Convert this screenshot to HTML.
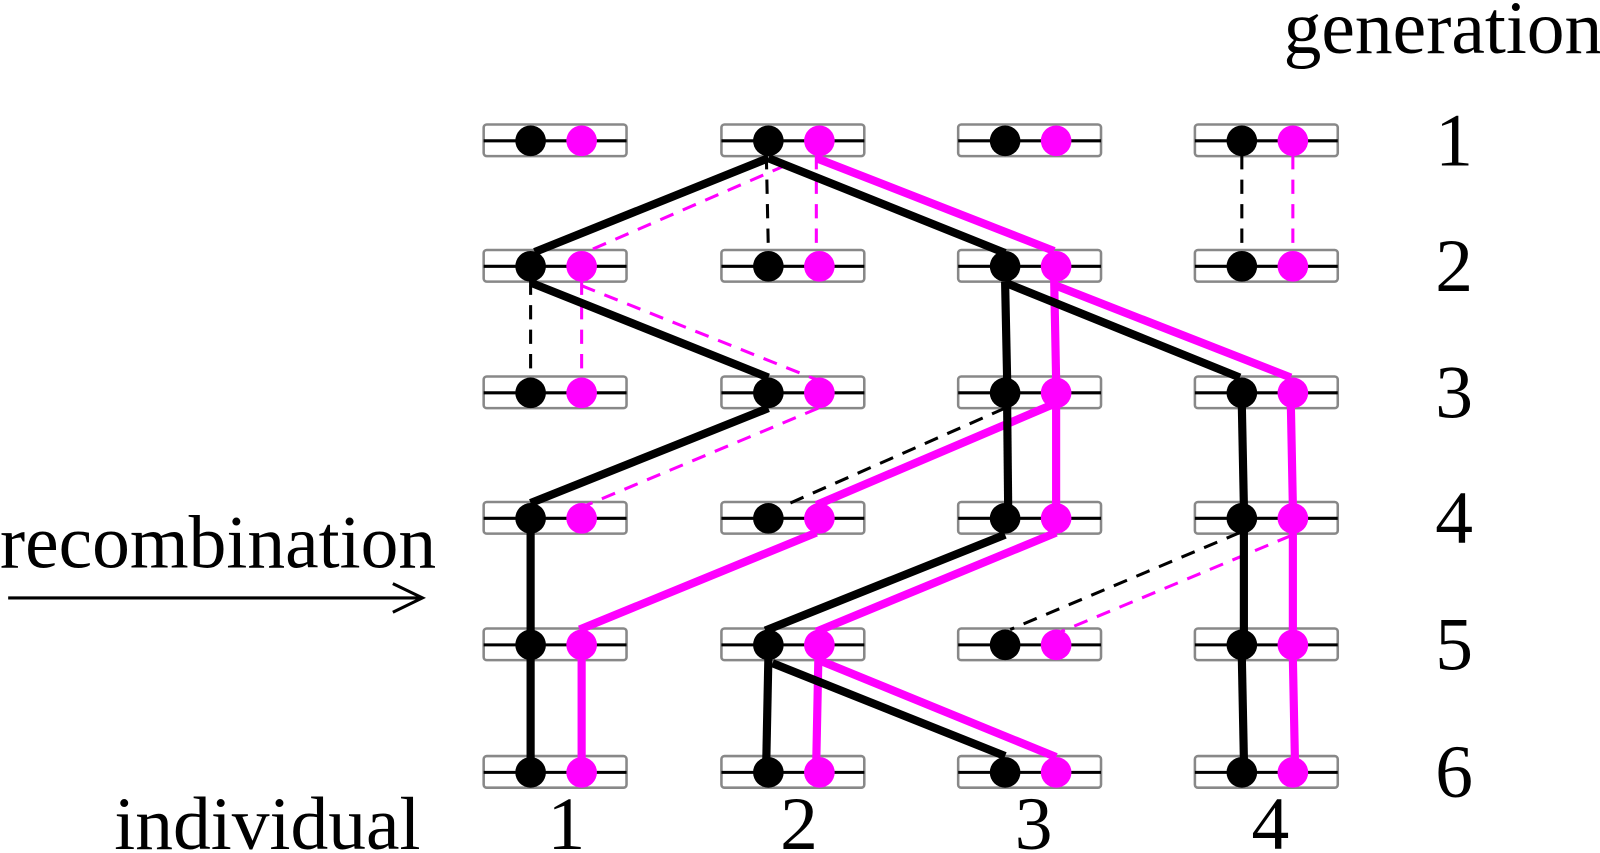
<!DOCTYPE html>
<html><head><meta charset="utf-8"><style>
html,body{margin:0;padding:0;background:#fff;width:1600px;height:853px;overflow:hidden}
svg{display:block}
text{font-family:"Liberation Serif",serif;fill:#000}
</style></head><body>
<svg width="1600" height="853" viewBox="0 0 1568 836" preserveAspectRatio="none" xmlns="http://www.w3.org/2000/svg" xmlns:xlink="http://www.w3.org/1999/xlink">
<defs>
<g id="chr">
<rect x="-46" y="-16" width="140" height="31" rx="3" fill="#fff" stroke="#888" stroke-width="2.5"/>
<line x1="-46" y1="0" x2="94" y2="0" stroke="#000" stroke-width="3"/>
</g>
<g id="dd">
<circle cx="0" cy="0" r="15" fill="#000"/>
<circle cx="50" cy="0" r="15" fill="#f0f"/>
</g>
</defs>
<g font-size="74">
<text x="1258" y="52">generation</text>
<text x="0" y="556">recombination</text>
<text x="112" y="832">individual</text>
<text x="1425" y="162" text-anchor="middle">1</text>
<text x="1425" y="285" text-anchor="middle">2</text>
<text x="1425" y="409" text-anchor="middle">3</text>
<text x="1425" y="532" text-anchor="middle">4</text>
<text x="1425" y="656" text-anchor="middle">5</text>
<text x="1425" y="781" text-anchor="middle">6</text>
<text x="555" y="832" text-anchor="middle">1</text>
<text x="783" y="832" text-anchor="middle">2</text>
<text x="1013" y="832" text-anchor="middle">3</text>
<text x="1245" y="832" text-anchor="middle">4</text>
</g>
<line x1="8" y1="586" x2="414" y2="586" stroke="#000" stroke-width="3"/>
<polyline points="385,572 414,586 385,600" fill="none" stroke="#000" stroke-width="3"/>

<use xlink:href="#chr" x="520" y="138"/><use xlink:href="#chr" x="753" y="138"/><use xlink:href="#chr" x="985" y="138"/><use xlink:href="#chr" x="1217" y="138"/>
<use xlink:href="#chr" x="520" y="261"/><use xlink:href="#chr" x="753" y="261"/><use xlink:href="#chr" x="985" y="261"/><use xlink:href="#chr" x="1217" y="261"/>
<use xlink:href="#chr" x="520" y="385"/><use xlink:href="#chr" x="753" y="385"/><use xlink:href="#chr" x="985" y="385"/><use xlink:href="#chr" x="1217" y="385"/>
<use xlink:href="#chr" x="520" y="508"/><use xlink:href="#chr" x="753" y="508"/><use xlink:href="#chr" x="985" y="508"/><use xlink:href="#chr" x="1217" y="508"/>
<use xlink:href="#chr" x="520" y="632"/><use xlink:href="#chr" x="753" y="632"/><use xlink:href="#chr" x="985" y="632"/><use xlink:href="#chr" x="1217" y="632"/>
<use xlink:href="#chr" x="520" y="757"/><use xlink:href="#chr" x="753" y="757"/><use xlink:href="#chr" x="985" y="757"/><use xlink:href="#chr" x="1217" y="757"/>

<g fill="none" stroke-width="3" stroke-dasharray="14,10">
<g stroke="#000">
<line x1="751" y1="152" x2="753" y2="246"/>
<line x1="1217" y1="152" x2="1217" y2="246"/>
<line x1="520" y1="275" x2="520" y2="370"/>
<line x1="985" y1="400" x2="770" y2="495"/>
<line x1="1215" y1="522" x2="990" y2="617"/>
</g>
<g stroke="#f0f">
<line x1="800" y1="152" x2="800" y2="246"/>
<line x1="1267" y1="152" x2="1267" y2="246"/>
<line x1="570" y1="275" x2="570" y2="370"/>
<line x1="770" y1="162" x2="572" y2="248"/>
<line x1="570" y1="280" x2="800" y2="372"/>
<line x1="802" y1="400" x2="575" y2="495"/>
<line x1="1265" y1="525" x2="1040" y2="619"/>
</g>
</g>

<g fill="none" stroke-width="8">
<g stroke="#f0f">
<line x1="800" y1="155" x2="1033" y2="246"/>
<line x1="1033" y1="270" x2="1035" y2="372"/>
<line x1="1035" y1="280" x2="1265" y2="370"/>
<line x1="1035" y1="395" x2="800" y2="495"/>
<line x1="1035" y1="395" x2="1035" y2="496"/>
<line x1="1265" y1="395" x2="1267" y2="496"/>
<line x1="800" y1="522" x2="568" y2="617"/>
<line x1="1035" y1="522" x2="800" y2="619"/>
<line x1="1267" y1="520" x2="1267" y2="620"/>
<line x1="570" y1="645" x2="570" y2="744"/>
<line x1="802" y1="645" x2="800" y2="744"/>
<line x1="805" y1="648" x2="1035" y2="742"/>
<line x1="1267" y1="645" x2="1269" y2="744"/>
</g>
<g stroke="#000">
<line x1="753" y1="155" x2="524" y2="247"/>
<line x1="753" y1="155" x2="985" y2="248"/>
<line x1="520" y1="277" x2="753" y2="370"/>
<line x1="985" y1="276" x2="987" y2="372"/>
<line x1="985" y1="277" x2="1215" y2="370"/>
<line x1="753" y1="400" x2="520" y2="493"/>
<line x1="987" y1="398" x2="988" y2="496"/>
<line x1="1217" y1="398" x2="1219" y2="496"/>
<line x1="520" y1="520" x2="520" y2="620"/>
<line x1="985" y1="524" x2="750" y2="618"/>
<line x1="1219" y1="520" x2="1219" y2="620"/>
<line x1="520" y1="645" x2="520" y2="744"/>
<line x1="753" y1="645" x2="751" y2="744"/>
<line x1="757" y1="650" x2="985" y2="741"/>
<line x1="1217" y1="645" x2="1219" y2="744"/>
</g>
</g>

<use xlink:href="#dd" x="520" y="138"/><use xlink:href="#dd" x="753" y="138"/><use xlink:href="#dd" x="985" y="138"/><use xlink:href="#dd" x="1217" y="138"/>
<use xlink:href="#dd" x="520" y="261"/><use xlink:href="#dd" x="753" y="261"/><use xlink:href="#dd" x="985" y="261"/><use xlink:href="#dd" x="1217" y="261"/>
<use xlink:href="#dd" x="520" y="385"/><use xlink:href="#dd" x="753" y="385"/><use xlink:href="#dd" x="985" y="385"/><use xlink:href="#dd" x="1217" y="385"/>
<use xlink:href="#dd" x="520" y="508"/><use xlink:href="#dd" x="753" y="508"/><use xlink:href="#dd" x="985" y="508"/><use xlink:href="#dd" x="1217" y="508"/>
<use xlink:href="#dd" x="520" y="632"/><use xlink:href="#dd" x="753" y="632"/><use xlink:href="#dd" x="985" y="632"/><use xlink:href="#dd" x="1217" y="632"/>
<use xlink:href="#dd" x="520" y="757"/><use xlink:href="#dd" x="753" y="757"/><use xlink:href="#dd" x="985" y="757"/><use xlink:href="#dd" x="1217" y="757"/>
</svg>
</body></html>
